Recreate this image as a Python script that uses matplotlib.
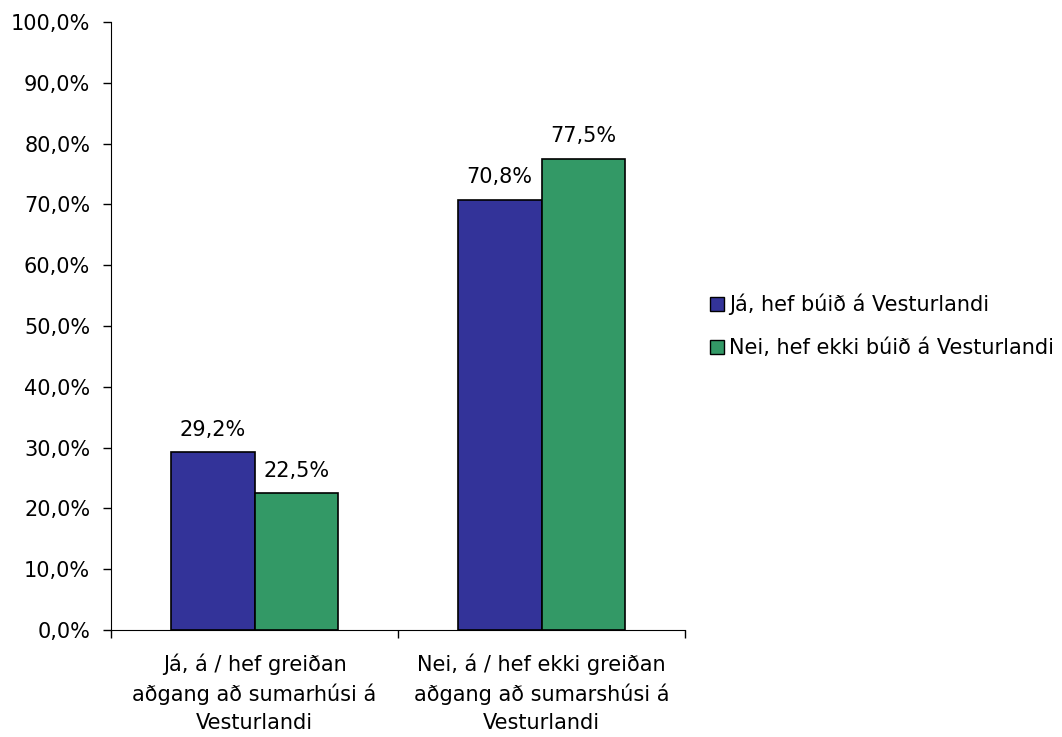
import matplotlib
matplotlib.use("Agg")
import matplotlib.pyplot as plt
from matplotlib.patches import Patch
import numpy as np

categories = ["Já, á / hef greiðan\naðgang að sumarhúsi á\nVesturlandi",
              "Nei, á / hef ekki greiðan\naðgang að sumarshúsi á\nVesturlandi"]
series_names = ["Já, hef búið á Vesturlandi", "Nei, hef ekki búið á Vesturlandi"]
ja_values = [29.2, 70.8]
nei_values = [22.5, 77.5]
colors = ["#333399", "#339966"]

plt.rcParams['font.family'] = ['DejaVu Sans']
fig = plt.figure(figsize=(10.62, 7.37), dpi=100)
ax = fig.add_axes([111/1062, 1-630/737, (685-111)/1062, (630-22)/737])

x = np.arange(len(categories))
w = 0.292
b1 = ax.bar(x - w/2, ja_values, w, color=colors[0], edgecolor="black", linewidth=1.2)
b2 = ax.bar(x + w/2, nei_values, w, color=colors[1], edgecolor="black", linewidth=1.2)

def fmt(v):
    return f"{v:.1f}%".replace(".", ",")

FS = 15
for bars, vals in ((b1, ja_values), (b2, nei_values)):
    for r, v in zip(bars, vals):
        ax.annotate(fmt(v), (r.get_x() + r.get_width()/2, v), xytext=(0, 9),
                    textcoords="offset points", ha="center", va="bottom", fontsize=FS)

ax.set_xlim(-0.5, 1.5)
ax.set_ylim(0, 100)
yt = np.arange(0, 101, 10)
ax.set_yticks(yt)
ax.set_yticklabels([fmt(v) for v in yt], fontsize=FS)
ax.set_xticks([-0.5, 0.5, 1.5])
ax.set_xticklabels([])
ax.tick_params(axis="x", direction="out", length=6, width=1)
ax.tick_params(axis="y", direction="out", length=6, width=1, pad=9)
for i, c in enumerate(categories):
    ax.text(i, -3.8, c, ha="center", va="top", fontsize=FS, linespacing=1.5,
            transform=ax.transData)
for s in ["top", "right"]:
    ax.spines[s].set_visible(False)

handles = [Patch(facecolor=colors[i], edgecolor="black", label=series_names[i]) for i in range(2)]
fig.legend(handles=handles, loc="center left", bbox_to_anchor=(710/1062, 1-326/737),
           frameon=False, fontsize=FS, handlelength=0.65, handleheight=0.65,
           handletextpad=0.25, labelspacing=1.1, borderaxespad=0, borderpad=0)

fig.savefig("out.png", dpi=100)
